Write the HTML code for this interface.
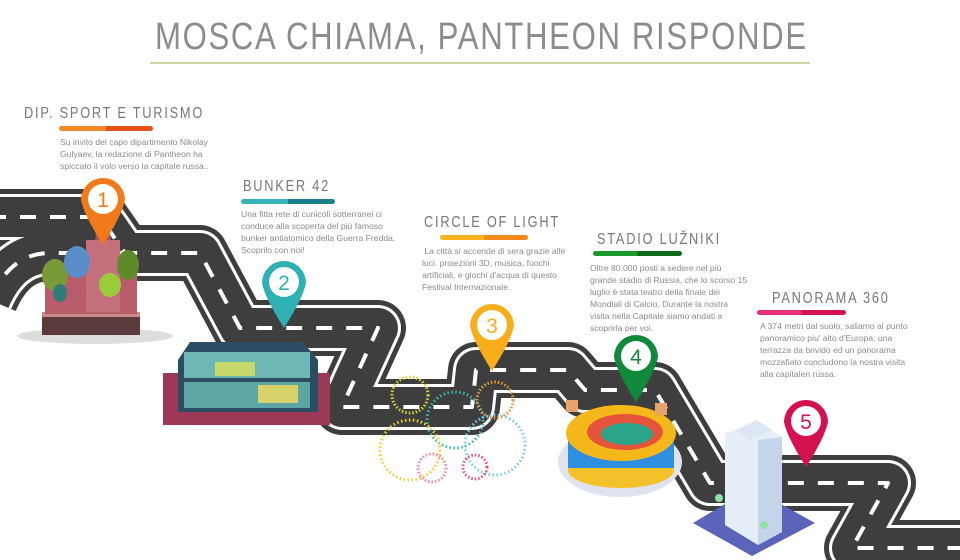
<!DOCTYPE html>
<html><head><meta charset="utf-8"><style>
body{margin:0;width:960px;height:560px;overflow:hidden;background:#fff;font-family:"Liberation Sans",sans-serif;position:relative}
.t{position:absolute;color:#7a7a7a;white-space:nowrap;transform-origin:0 0}
.h{position:absolute;color:#777;font-size:16px;letter-spacing:2.2px;white-space:nowrap;font-weight:normal;transform:scaleX(0.8);transform-origin:0 0}
.p{position:absolute;color:#8a8a8a;font-size:8.6px;line-height:12px;white-space:nowrap}
.bar{position:absolute;height:5px;border-radius:3px}
</style></head><body>
<div class="t" style="left:155px;top:16px;font-size:38px;letter-spacing:2px;color:#8c8c8c;transform:scaleX(0.82)">MOSCA CHIAMA, PANTHEON RISPONDE</div>
<div style="position:absolute;left:150px;top:62px;width:660px;height:2px;background:#c8d9a6"></div>

<svg width="960" height="560" style="position:absolute;left:0;top:0">
<defs>
<g id="road">
<path d="M-10,217 L100,217 L125,253 L200,253 L240,328 L378,328 L342,407 L472,407 L476,370 L568,370 L585,390 L655,390 L710,483 L888,483 L852,548 L980,548" />
<path d="M-10,300 Q10,253 50,253 L125,253" />
</g>
</defs>
<g fill="none" stroke-linejoin="round" stroke-linecap="butt">
<use href="#road" stroke="#3e3e3e" stroke-width="56"/>
<use href="#road" stroke="#fff" stroke-width="46"/>
<use href="#road" stroke="#3e3e3e" stroke-width="40"/>
<use href="#road" stroke="#fff" stroke-width="4" stroke-dasharray="16 14"/>
</g>

<!-- cathedral -->
<ellipse cx="95" cy="336" rx="78" ry="8" fill="#ddd"/>
<rect x="42" y="315" width="98" height="20" fill="#5a3a3a"/>
<rect x="42" y="312" width="98" height="5" fill="#c98a8a"/>
<rect x="45" y="270" width="92" height="44" fill="#b85c6a"/>
<polygon points="85,290 103,200 121,290" fill="#b0505e"/>
<rect x="86" y="240" width="34" height="72" fill="#c4707c"/>
<ellipse cx="55" cy="275" rx="13" ry="16" fill="#7a9a3a"/>
<ellipse cx="77" cy="262" rx="13" ry="16" fill="#5a8ec8"/>
<ellipse cx="128" cy="265" rx="11" ry="15" fill="#5e8a2a"/>
<ellipse cx="110" cy="285" rx="11" ry="12" fill="#9acb3a"/>
<ellipse cx="60" cy="293" rx="7" ry="9" fill="#2f7d7a"/>
<!-- bunker -->
<rect x="163" y="373" width="167" height="52" fill="#9c3a56"/>
<polygon points="190,342 303,342 318,360 318,412 178,412 178,360" fill="#2a4d63"/>
<rect x="184" y="352" width="126" height="26" fill="#6fb7b5"/>
<rect x="184" y="382" width="126" height="26" fill="#5da6a6"/>
<rect x="215" y="362" width="40" height="14" fill="#c7d96a"/>
<rect x="258" y="385" width="40" height="18" fill="#d7d36a"/>
<!-- fireworks -->
<g fill="none" stroke-width="3">
<circle cx="410" cy="395" r="18" stroke="#d9d33a" stroke-dasharray="1.5 2"/>
<circle cx="455" cy="420" r="28" stroke="#3bb9b0" stroke-dasharray="1.5 2.5"/>
<circle cx="495" cy="400" r="18" stroke="#e89a3a" stroke-dasharray="1.5 2"/>
<circle cx="410" cy="450" r="30" stroke="#f2cf3a" stroke-dasharray="1.5 2.5"/>
<circle cx="495" cy="445" r="30" stroke="#7ec8e8" stroke-dasharray="1.5 2.5"/>
<circle cx="432" cy="468" r="14" stroke="#e88ab8" stroke-dasharray="1.5 2"/>
<circle cx="475" cy="467" r="12" stroke="#e8507a" stroke-dasharray="1.5 2"/>
</g>
<!-- stadium -->
<ellipse cx="620" cy="462" rx="62" ry="35" fill="#dfe3ef"/>
<rect x="568" y="440" width="106" height="28" fill="#2e8ee0"/>
<ellipse cx="621" cy="470" rx="53" ry="18" fill="#f5c12a"/>
<rect x="568" y="440" width="106" height="28" fill="#2e8ee0"/>
<ellipse cx="621" cy="433" rx="55" ry="28" fill="#f5b81a"/>
<ellipse cx="625" cy="432" rx="38" ry="18" fill="#e4533a"/>
<ellipse cx="627" cy="434" rx="26" ry="11" fill="#2aa58a"/>
<rect x="566" y="400" width="12" height="12" fill="#e8a36a"/>
<rect x="655" y="403" width="12" height="12" fill="#e8a36a"/>
<!-- building -->
<polygon points="693,523 752,488 815,523 752,556" fill="#5a64b8"/>
<polygon points="725,433 760,422 782,437 782,532 758,545 725,525" fill="#e6eef8"/>
<polygon points="758,440 782,437 782,532 758,545" fill="#c5d4ea"/>
<polygon points="735,430 757,420 772,430 750,440" fill="#dde6f3"/>
<circle cx="719" cy="498" r="4" fill="#8fe0a0"/><circle cx="764" cy="525" r="4" fill="#8fe0a0"/>

<!-- pins -->
<g font-family="Liberation Sans,sans-serif" font-size="21" text-anchor="middle">
<g><path d="M81,200 A22,22 0 1 1 125,200 Q122,215 103,245 Q84,215 81,200Z" fill="#f27a1a"/><circle cx="103" cy="199" r="15" fill="#fff"/><text x="103" y="207" fill="#f27a1a">1</text></g>
<g><path d="M262,283 A22,22 0 1 1 306,283 Q303,298 284,328 Q265,298 262,283Z" fill="#2fb0b4"/><circle cx="284" cy="282" r="15" fill="#fff"/><text x="284" y="290" fill="#2fb0b4">2</text></g>
<g><path d="M470,326 A22,22 0 1 1 514,326 Q511,341 492,371 Q473,341 470,326Z" fill="#f8ad1a"/><circle cx="492" cy="325" r="15" fill="#fff"/><text x="492" y="333" fill="#f8ad1a">3</text></g>
<g><path d="M614,357 A22,22 0 1 1 658,357 Q655,372 636,402 Q617,372 614,357Z" fill="#108a3a"/><circle cx="636" cy="356" r="15" fill="#fff"/><text x="636" y="364" fill="#108a3a">4</text></g>
<g><path d="M784,422 A22,22 0 1 1 828,422 Q825,437 806,467 Q787,437 784,422Z" fill="#d4124e"/><circle cx="806" cy="421" r="15" fill="#fff"/><text x="806" y="429" fill="#d4124e">5</text></g>
</g>
</svg>

<div class="h" style="left:24px;top:105px">DIP. SPORT E TURISMO</div>
<div class="bar" style="left:59px;top:126px;width:94px;background:linear-gradient(90deg,#f28a2a 50%,#e8501a 50%)"></div>
<div class="p" style="left:60px;top:136px">Su invito del capo dipartimento Nikolay<br>Gulyaev, la redazione di Pantheon ha<br>spiccato il volo verso la capitale russa..</div>

<div class="h" style="left:243px;top:178px">BUNKER 42</div>
<div class="bar" style="left:241px;top:199px;width:94px;background:linear-gradient(90deg,#34b3b8 50%,#17808a 50%)"></div>
<div class="p" style="left:241px;top:208px">Una fitta rete di cunicoli sotterranei ci<br>conduce alla scoperta del più famoso<br>bunker antiatomico della Guerra Fredda.<br>Scoprilo con noi!</div>

<div class="h" style="left:424px;top:214px">CIRCLE OF LIGHT</div>
<div class="bar" style="left:440px;top:235px;width:88px;background:linear-gradient(90deg,#f8b21e 50%,#f28a1e 50%)"></div>
<div class="p" style="left:422px;top:245px">&nbsp;La città si accende di sera grazie alle<br>luci. proiezioni 3D, musica, fuochi<br>artificiali, e giochi d'acqua di questo<br>Festival Internazionale.</div>

<div class="h" style="left:597px;top:231px">STADIO LUŽNIKI</div>
<div class="bar" style="left:593px;top:251px;width:89px;background:linear-gradient(90deg,#1a9a2a 50%,#0a6a1a 50%)"></div>
<div class="p" style="left:590px;top:262px">Oltre 80.000 posti a sedere nel più<br>grande stadio di Russia, che lo scorso 15<br>luglio è stata teatro della finale dei<br>Mondiali di Calcio. Durante la nostra<br>visita nella Capitale siamo andati a<br>scoprirla per voi.</div>

<div class="h" style="left:772px;top:290px">PANORAMA 360</div>
<div class="bar" style="left:757px;top:310px;width:89px;background:linear-gradient(90deg,#e8307a 50%,#d4124e 50%)"></div>
<div class="p" style="left:760px;top:320px">A 374 metri dal suolo, saliamo al punto<br>panoramico piu' alto d'Europa: una<br>terrazza da brivido ed un panorama<br>mozzafiato concludono la nostra visita<br>alla capitalen russa.</div>
</body></html>
